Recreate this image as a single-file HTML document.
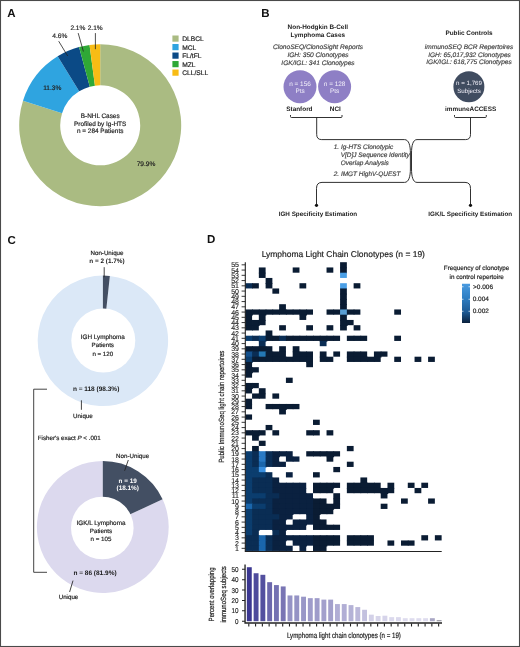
<!DOCTYPE html><html><head><meta charset="utf-8"><title>Figure</title>
<style>html,body{margin:0;padding:0;background:#fff}body{width:520px;height:647px;overflow:hidden}svg{display:block;will-change:transform;transform:translateZ(0)}text{font-family:"Liberation Sans",sans-serif;text-rendering:geometricPrecision}</style></head><body>
<svg width="520" height="647" viewBox="0 0 520 647">
<rect x="0" y="0" width="520" height="647" fill="#fff"/>
<text x="7.3" y="17.3" font-size="11.5" text-anchor="start" font-weight="bold" font-style="normal" fill="#111"  >A</text>
<text x="261.3" y="17.1" font-size="11.5" text-anchor="start" font-weight="bold" font-style="normal" fill="#111"  >B</text>
<text x="7.5" y="243.5" font-size="11.5" text-anchor="start" font-weight="bold" font-style="normal" fill="#111"  >C</text>
<text x="206.9" y="243.4" font-size="11.5" text-anchor="start" font-weight="bold" font-style="normal" fill="#111"  >D</text>
<path d="M100.20,44.30 A81,81 0 1 1 23.01,100.75 L62.08,113.18 A40,40 0 1 0 100.20,85.30 Z" fill="#aabb82"/>
<path d="M23.01,100.75 A81,81 0 0 1 57.66,56.37 L79.19,91.26 A40,40 0 0 0 62.08,113.18 Z" fill="#2fa4e0"/>
<path d="M57.66,56.37 A81,81 0 0 1 79.07,47.10 L89.77,86.68 A40,40 0 0 0 79.19,91.26 Z" fill="#0b4a86"/>
<path d="M79.07,47.10 A81,81 0 0 1 89.54,45.00 L94.94,85.65 A40,40 0 0 0 89.77,86.68 Z" fill="#2fa836"/>
<path d="M89.54,45.00 A81,81 0 0 1 100.20,44.30 L100.20,85.30 A40,40 0 0 0 94.94,85.65 Z" fill="#f8bc15"/>
<text x="100.2" y="117.9" font-size="6.4" text-anchor="middle" font-weight="normal" font-style="normal" fill="#222" stroke="#222" stroke-width="0.18" >B-NHL Cases</text>
<text x="100.2" y="125.5" font-size="6.4" text-anchor="middle" font-weight="normal" font-style="normal" fill="#222" stroke="#222" stroke-width="0.18" >Profiled by Ig-HTS</text>
<text x="100.2" y="133.3" font-size="6.4" text-anchor="middle" font-weight="normal" font-style="normal" fill="#222" stroke="#222" stroke-width="0.18" >n = 284 Patients</text>
<text x="146" y="166.0" font-size="6.6" text-anchor="middle" font-weight="normal" font-style="normal" fill="#222" stroke="#222" stroke-width="0.18" >79.9%</text>
<text x="52.3" y="89.5" font-size="6.6" text-anchor="middle" font-weight="normal" font-style="normal" fill="#222" stroke="#222" stroke-width="0.18" >11.3%</text>
<text x="59.8" y="38.1" font-size="6.6" text-anchor="middle" font-weight="normal" font-style="normal" fill="#222" stroke="#222" stroke-width="0.18" >4.6%</text>
<text x="77.9" y="29.6" font-size="6.6" text-anchor="middle" font-weight="normal" font-style="normal" fill="#222" stroke="#222" stroke-width="0.18" >2.1%</text>
<text x="95.2" y="29.6" font-size="6.6" text-anchor="middle" font-weight="normal" font-style="normal" fill="#222" stroke="#222" stroke-width="0.18" >2.1%</text>
<path d="M58.7,41.2 L67.7,56 M78.2,33.1 L83.4,51.5 M95.4,33.1 L95.4,49.2" stroke="#222" stroke-width="0.8" fill="none"/>
<rect x="172.4" y="35.50" width="6.2" height="6.2" fill="#aabb82"/>
<text x="182.2" y="41.0" font-size="6.7" text-anchor="start" font-weight="normal" font-style="normal" fill="#222" stroke="#222" stroke-width="0.18" >DLBCL</text>
<rect x="172.4" y="44.01" width="6.2" height="6.2" fill="#2fa4e0"/>
<text x="182.2" y="49.51" font-size="6.7" text-anchor="start" font-weight="normal" font-style="normal" fill="#222" stroke="#222" stroke-width="0.18" >MCL</text>
<rect x="172.4" y="52.52" width="6.2" height="6.2" fill="#0b4a86"/>
<text x="182.2" y="58.019999999999996" font-size="6.7" text-anchor="start" font-weight="normal" font-style="normal" fill="#222" stroke="#222" stroke-width="0.18" >FL/tFL</text>
<rect x="172.4" y="61.03" width="6.2" height="6.2" fill="#2fa836"/>
<text x="182.2" y="66.53" font-size="6.7" text-anchor="start" font-weight="normal" font-style="normal" fill="#222" stroke="#222" stroke-width="0.18" >MZL</text>
<rect x="172.4" y="69.54" width="6.2" height="6.2" fill="#f8bc15"/>
<text x="182.2" y="75.03999999999999" font-size="6.7" text-anchor="start" font-weight="normal" font-style="normal" fill="#222" stroke="#222" stroke-width="0.18" >CLL/SLL</text>
<text x="317.8" y="29.1" font-size="6.4" text-anchor="middle" font-weight="bold" font-style="normal" fill="#1a1a1a"  >Non-Hodgkin B-Cell</text>
<text x="317.8" y="37.3" font-size="6.4" text-anchor="middle" font-weight="bold" font-style="normal" fill="#1a1a1a"  >Lymphoma Cases</text>
<text x="318" y="48.8" font-size="6.6" text-anchor="middle" font-weight="normal" font-style="italic" fill="#444" stroke="#444" stroke-width="0.18" >ClonoSEQ/ClonoSight Reports</text>
<text x="318" y="56.6" font-size="6.6" text-anchor="middle" font-weight="normal" font-style="italic" fill="#444" stroke="#444" stroke-width="0.18" >IGH: 350 Clonotypes</text>
<text x="318" y="64.8" font-size="6.6" text-anchor="middle" font-weight="normal" font-style="italic" fill="#444" stroke="#444" stroke-width="0.18" >IGK/IGL: 341 Clonotypes</text>
<circle cx="300" cy="86.7" r="16.5" fill="#8e7fc5"/>
<circle cx="334.6" cy="86.7" r="16.5" fill="#8e7fc5"/>
<text x="300" y="85.5" font-size="6.4" text-anchor="middle" fill="#f4f2fb">n = 156</text>
<text x="300" y="93.4" font-size="6.4" text-anchor="middle" fill="#f4f2fb">Pts</text>
<text x="334.6" y="85.5" font-size="6.4" text-anchor="middle" fill="#f4f2fb">n = 128</text>
<text x="334.6" y="93.4" font-size="6.4" text-anchor="middle" fill="#f4f2fb">Pts</text>
<text x="299.4" y="110.9" font-size="6.4" text-anchor="middle" font-weight="bold" font-style="normal" fill="#1a1a1a"  >Stanford</text>
<text x="335.3" y="110.9" font-size="6.4" text-anchor="middle" font-weight="bold" font-style="normal" fill="#1a1a1a"  >NCI</text>
<text x="469" y="34.6" font-size="6.4" text-anchor="middle" font-weight="bold" font-style="normal" fill="#1a1a1a"  >Public Controls</text>
<text x="469" y="49.2" font-size="6.55" text-anchor="middle" font-weight="normal" font-style="italic" fill="#444" stroke="#444" stroke-width="0.18" >immunoSEQ BCR Repertoires</text>
<text x="469.5" y="56.7" font-size="6.55" text-anchor="middle" font-weight="normal" font-style="italic" fill="#444" stroke="#444" stroke-width="0.18" >IGH: 65,017,932 Clonotypes</text>
<text x="469" y="64.4" font-size="6.55" text-anchor="middle" font-weight="normal" font-style="italic" fill="#444" stroke="#444" stroke-width="0.18" >IGK/IGL: 618,775 Clonotypes</text>
<circle cx="468.9" cy="86.7" r="15.5" fill="#404c60"/>
<text x="469" y="85.3" font-size="6.2" text-anchor="middle" fill="#f4f2fb">n = 1,769</text>
<text x="469" y="92.6" font-size="6.2" text-anchor="middle" fill="#f4f2fb">Subjects</text>
<text x="470.6" y="110.7" font-size="6.4" text-anchor="middle" font-weight="bold" font-style="normal" fill="#1a1a1a"  >immuneACCESS</text>
<path d="M290.5,115 L290.5,116.5 Q290.5,117.5 291.5,117.5 L341,117.5 Q342,117.5 342,116.5 L342,115 M316.7,117.5 L316.7,134.5 Q316.7,139.6 321.7,139.6 L404.5,139.6 C409,139.6 410.4,146 410.4,153 L410.4,169 C410.4,176 409,182.4 404.5,182.4 L322,182.4 Q316.5,182.4 316.5,188.4 L316.5,205 M454.5,115 L454.5,116.5 Q454.5,117.5 455.5,117.5 L485.3,117.5 Q486.3,117.5 486.3,116.5 L486.3,115 M470.5,117.5 L470.5,134.5 Q470.5,139.6 465.5,139.6 L417,139.6 C412.8,139.6 411.5,146 411.5,153 L411.5,169 C411.5,176 412.8,182.4 417,182.4 L465,182.4 Q470.5,182.4 470.5,188.4 L470.5,205" stroke="#1a1a1a" stroke-width="0.9" fill="none"/>
<circle cx="316.5" cy="205.3" r="1.6" fill="#111"/><circle cx="470.5" cy="205.3" r="1.6" fill="#111"/>
<text x="333.75" y="149" font-size="6.45" text-anchor="start" font-weight="normal" font-style="italic" fill="#444" stroke="#444" stroke-width="0.18" >1. Ig-HTS Clonotypic</text>
<text x="340.75" y="156.8" font-size="6.45" text-anchor="start" font-weight="normal" font-style="italic" fill="#444" stroke="#444" stroke-width="0.18" >V[D]J Sequence Identity</text>
<text x="340.75" y="164.8" font-size="6.45" text-anchor="start" font-weight="normal" font-style="italic" fill="#444" stroke="#444" stroke-width="0.18" >Overlap Analysis</text>
<text x="333.75" y="175.8" font-size="6.45" text-anchor="start" font-weight="normal" font-style="italic" fill="#444" stroke="#444" stroke-width="0.18" >2. IMGT HighV-QUEST</text>
<text x="317.9" y="216" font-size="6.3" text-anchor="middle" font-weight="bold" font-style="normal" fill="#1a1a1a"  >IGH Specificity Estimation</text>
<text x="470.3" y="216" font-size="6.3" text-anchor="middle" font-weight="bold" font-style="normal" fill="#1a1a1a"  >IGK/L Specificity Estimation</text>
<path d="M109.85,275.97 A65.2,65.2 0 1 1 102.90,275.60 L102.90,320.80 A20,20 0 1 0 105.03,320.91 Z" fill="#dbe8f7"/>
<path d="M102.90,275.60 A65.2,65.2 0 0 1 109.85,275.97 L105.03,320.91 A20,20 0 0 0 102.90,320.80 Z" fill="#434f63"/>
<circle cx="103.3" cy="340.6" r="32" fill="#fff"/>
<text x="107" y="255.1" font-size="6.2" text-anchor="middle" font-weight="normal" font-style="normal" fill="#222" stroke="#222" stroke-width="0.18" >Non-Unique</text>
<text x="107" y="262.7" font-size="6.4" text-anchor="middle" font-weight="bold" font-style="normal" fill="#1a1a1a"  >n = 2 (1.7%)</text>
<text x="102.8" y="339.4" font-size="6.35" text-anchor="middle" font-weight="normal" font-style="normal" fill="#222" stroke="#222" stroke-width="0.18" >IGH Lymphoma</text>
<text x="102.8" y="347.3" font-size="6.2" text-anchor="middle" font-weight="normal" font-style="normal" fill="#222" stroke="#222" stroke-width="0.18" >Patients</text>
<text x="102.8" y="355.5" font-size="6.2" text-anchor="middle" font-weight="normal" font-style="normal" fill="#222" stroke="#222" stroke-width="0.18" >n = 120</text>
<text x="96.1" y="390.8" font-size="6.5" text-anchor="middle" font-weight="bold" font-style="normal" fill="#1a1a1a"  >n = 118 (98.3%)</text>
<text x="82.9" y="417.8" font-size="6.2" text-anchor="middle" font-weight="normal" font-style="normal" fill="#222" stroke="#222" stroke-width="0.18" >Unique</text>
<path d="M162.60,499.32 A65.9,65.9 0 1 1 102.80,461.10 L102.80,507.00 A20,20 0 1 0 120.95,518.60 Z" fill="#dcd9ee"/>
<path d="M102.80,461.10 A65.9,65.9 0 0 1 162.60,499.32 L120.95,518.60 A20,20 0 0 0 102.80,507.00 Z" fill="#434f63"/>
<circle cx="102.3" cy="528" r="31.3" fill="#fff"/>
<text x="37.8" y="440" font-size="6.2" text-anchor="start" font-weight="normal" font-style="normal" fill="#222" stroke="#222" stroke-width="0.18" >Fisher's exact <tspan font-style="italic">P</tspan> &lt; .001</text>
<text x="132.6" y="457.6" font-size="6.2" text-anchor="middle" font-weight="normal" font-style="normal" fill="#222" stroke="#222" stroke-width="0.18" >Non-Unique</text>
<text x="127.7" y="482.9" font-size="6.4" text-anchor="middle" font-weight="bold" font-style="normal" fill="#fff"  >n = 19</text>
<text x="127.7" y="490.2" font-size="6.4" text-anchor="middle" font-weight="bold" font-style="normal" fill="#fff"  >(18.1%)</text>
<text x="101" y="525.2" font-size="6.35" text-anchor="middle" font-weight="normal" font-style="normal" fill="#222" stroke="#222" stroke-width="0.18" >IGK/L Lymphoma</text>
<text x="101" y="533" font-size="6.2" text-anchor="middle" font-weight="normal" font-style="normal" fill="#222" stroke="#222" stroke-width="0.18" >Patients</text>
<text x="101" y="541" font-size="6.2" text-anchor="middle" font-weight="normal" font-style="normal" fill="#222" stroke="#222" stroke-width="0.18" >n = 105</text>
<text x="95" y="574.5" font-size="6.5" text-anchor="middle" font-weight="bold" font-style="normal" fill="#1a1a1a"  >n = 86 (81.9%)</text>
<text x="68.5" y="599.2" font-size="6.2" text-anchor="middle" font-weight="normal" font-style="normal" fill="#222" stroke="#222" stroke-width="0.18" >Unique</text>
<path d="M104.2,267.2 L104.2,277.2 M81.4,400.3 L81.4,409.8 M128.3,460 L124.6,470.8 M73,580.6 L69.6,592 M47,389.2 L33.7,389.2 L33.7,572.3 L47,572.3" stroke="#222" stroke-width="0.85" fill="none"/>
<text x="343.3" y="256.6" font-size="8.48" text-anchor="middle" font-weight="normal" font-style="normal" fill="#222" stroke="#222" stroke-width="0.18" >Lymphoma Light Chain Clonotypes (n = 19)</text>
<rect x="340.08" y="262.20" width="6.77" height="6.05" fill="#0a1c33"/>
<rect x="258.84" y="267.45" width="6.77" height="6.05" fill="#0a1c33"/>
<rect x="292.69" y="267.45" width="6.77" height="5.25" fill="#0a1c33"/>
<rect x="326.54" y="267.45" width="6.77" height="5.25" fill="#0a1c33"/>
<rect x="340.08" y="267.45" width="6.77" height="6.05" fill="#0a1c33"/>
<rect x="258.84" y="272.70" width="6.77" height="5.25" fill="#0a1c33"/>
<rect x="340.08" y="272.70" width="6.77" height="5.25" fill="#4a9fe6"/>
<rect x="265.61" y="277.95" width="6.77" height="6.05" fill="#0a1c33"/>
<rect x="245.30" y="283.20" width="7.57" height="5.25" fill="#0a2d54"/>
<rect x="252.07" y="283.20" width="6.77" height="5.25" fill="#0a1c33"/>
<rect x="265.61" y="283.20" width="6.77" height="5.25" fill="#0a1c33"/>
<rect x="299.46" y="283.20" width="6.77" height="5.25" fill="#0a1c33"/>
<rect x="340.08" y="283.20" width="6.77" height="6.05" fill="#4a9fe6"/>
<rect x="353.62" y="283.20" width="6.77" height="5.25" fill="#0a1c33"/>
<rect x="272.38" y="288.45" width="6.77" height="5.25" fill="#0a1c33"/>
<rect x="340.08" y="288.45" width="6.77" height="6.05" fill="#0a1c33"/>
<rect x="340.08" y="293.70" width="6.77" height="6.05" fill="#0a1c33"/>
<rect x="340.08" y="298.95" width="6.77" height="6.05" fill="#0a1c33"/>
<rect x="279.15" y="304.20" width="6.77" height="6.05" fill="#0a1c33"/>
<rect x="340.08" y="304.20" width="6.77" height="6.05" fill="#0a1c33"/>
<rect x="245.30" y="309.45" width="7.57" height="6.05" fill="#0a1c33"/>
<rect x="252.07" y="309.45" width="7.57" height="5.25" fill="#0a1c33"/>
<rect x="258.84" y="309.45" width="7.57" height="6.05" fill="#0a1c33"/>
<rect x="265.61" y="309.45" width="7.57" height="5.25" fill="#0a1c33"/>
<rect x="272.38" y="309.45" width="7.57" height="5.25" fill="#0a1c33"/>
<rect x="279.15" y="309.45" width="7.57" height="5.25" fill="#0a1c33"/>
<rect x="285.92" y="309.45" width="7.57" height="5.25" fill="#0a1c33"/>
<rect x="292.69" y="309.45" width="7.57" height="5.25" fill="#0a1c33"/>
<rect x="299.46" y="309.45" width="7.57" height="6.05" fill="#0a1c33"/>
<rect x="306.23" y="309.45" width="6.77" height="5.25" fill="#0a1c33"/>
<rect x="326.54" y="309.45" width="7.57" height="5.25" fill="#0a1c33"/>
<rect x="333.31" y="309.45" width="7.57" height="5.25" fill="#0a1c33"/>
<rect x="340.08" y="309.45" width="7.57" height="6.05" fill="#5a9fd4"/>
<rect x="346.85" y="309.45" width="7.57" height="5.25" fill="#0a1c33"/>
<rect x="353.62" y="309.45" width="6.77" height="5.25" fill="#0a1c33"/>
<rect x="394.24" y="309.45" width="6.77" height="5.25" fill="#0a1c33"/>
<rect x="245.30" y="314.70" width="6.77" height="6.05" fill="#0a1c33"/>
<rect x="258.84" y="314.70" width="6.77" height="6.05" fill="#0a1c33"/>
<rect x="299.46" y="314.70" width="6.77" height="5.25" fill="#0a1c33"/>
<rect x="340.08" y="314.70" width="6.77" height="6.05" fill="#0a1c33"/>
<rect x="245.30" y="319.95" width="7.57" height="6.05" fill="#0a1c33"/>
<rect x="252.07" y="319.95" width="7.57" height="6.05" fill="#0a1c33"/>
<rect x="258.84" y="319.95" width="6.77" height="5.25" fill="#0a1c33"/>
<rect x="340.08" y="319.95" width="7.57" height="6.05" fill="#0a1c33"/>
<rect x="346.85" y="319.95" width="6.77" height="5.25" fill="#0a1c33"/>
<rect x="245.30" y="325.20" width="7.57" height="5.25" fill="#0a1c33"/>
<rect x="252.07" y="325.20" width="6.77" height="5.25" fill="#0a1c33"/>
<rect x="279.15" y="325.20" width="6.77" height="5.25" fill="#0a1c33"/>
<rect x="306.23" y="325.20" width="6.77" height="5.25" fill="#0a1c33"/>
<rect x="326.54" y="325.20" width="6.77" height="5.25" fill="#0a1c33"/>
<rect x="340.08" y="325.20" width="6.77" height="5.25" fill="#0a1c33"/>
<rect x="353.62" y="325.20" width="6.77" height="5.25" fill="#0a1c33"/>
<rect x="265.61" y="330.45" width="6.77" height="6.05" fill="#0a1c33"/>
<rect x="245.30" y="335.70" width="7.57" height="5.25" fill="#0b3d6e"/>
<rect x="252.07" y="335.70" width="7.57" height="5.25" fill="#0a2d54"/>
<rect x="258.84" y="335.70" width="7.57" height="6.05" fill="#0b3d6e"/>
<rect x="265.61" y="335.70" width="7.57" height="5.25" fill="#0a1c33"/>
<rect x="272.38" y="335.70" width="7.57" height="5.25" fill="#0a1c33"/>
<rect x="279.15" y="335.70" width="7.57" height="5.25" fill="#0a2d54"/>
<rect x="285.92" y="335.70" width="7.57" height="5.25" fill="#0a1c33"/>
<rect x="292.69" y="335.70" width="7.57" height="5.25" fill="#0a1c33"/>
<rect x="299.46" y="335.70" width="7.57" height="5.25" fill="#0a1c33"/>
<rect x="306.23" y="335.70" width="7.57" height="5.25" fill="#0a1c33"/>
<rect x="313.00" y="335.70" width="7.57" height="5.25" fill="#0a1c33"/>
<rect x="319.77" y="335.70" width="7.57" height="6.05" fill="#0a1c33"/>
<rect x="326.54" y="335.70" width="7.57" height="5.25" fill="#0a1c33"/>
<rect x="333.31" y="335.70" width="6.77" height="5.25" fill="#0a1c33"/>
<rect x="346.85" y="335.70" width="7.57" height="5.25" fill="#0a1c33"/>
<rect x="353.62" y="335.70" width="7.57" height="5.25" fill="#0a1c33"/>
<rect x="360.39" y="335.70" width="6.77" height="5.25" fill="#0a1c33"/>
<rect x="394.24" y="335.70" width="6.77" height="5.25" fill="#0a1c33"/>
<rect x="258.84" y="340.95" width="6.77" height="6.05" fill="#0a2d54"/>
<rect x="319.77" y="340.95" width="6.77" height="5.25" fill="#0a2d54"/>
<rect x="245.30" y="346.20" width="7.57" height="6.05" fill="#0a1c33"/>
<rect x="252.07" y="346.20" width="7.57" height="6.05" fill="#0a1c33"/>
<rect x="258.84" y="346.20" width="7.57" height="6.05" fill="#0a1c33"/>
<rect x="265.61" y="346.20" width="6.77" height="6.05" fill="#0a1c33"/>
<rect x="279.15" y="346.20" width="6.77" height="6.05" fill="#0a1c33"/>
<rect x="292.69" y="346.20" width="6.77" height="6.05" fill="#0a1c33"/>
<rect x="245.30" y="351.45" width="7.57" height="6.05" fill="#14508c"/>
<rect x="252.07" y="351.45" width="7.57" height="6.05" fill="#0a2d54"/>
<rect x="258.84" y="351.45" width="7.57" height="6.05" fill="#2478b4"/>
<rect x="265.61" y="351.45" width="7.57" height="6.05" fill="#0a1c33"/>
<rect x="272.38" y="351.45" width="7.57" height="6.05" fill="#0a1c33"/>
<rect x="279.15" y="351.45" width="6.77" height="6.05" fill="#0a1c33"/>
<rect x="292.69" y="351.45" width="7.57" height="6.05" fill="#0a1c33"/>
<rect x="299.46" y="351.45" width="7.57" height="6.05" fill="#0a1c33"/>
<rect x="306.23" y="351.45" width="6.77" height="6.05" fill="#0a1c33"/>
<rect x="319.77" y="351.45" width="6.77" height="6.05" fill="#0a1c33"/>
<rect x="333.31" y="351.45" width="6.77" height="5.25" fill="#0a1c33"/>
<rect x="346.85" y="351.45" width="7.57" height="6.05" fill="#0a1c33"/>
<rect x="353.62" y="351.45" width="7.57" height="6.05" fill="#0a1c33"/>
<rect x="360.39" y="351.45" width="6.77" height="6.05" fill="#0a1c33"/>
<rect x="373.93" y="351.45" width="7.57" height="6.05" fill="#0a1c33"/>
<rect x="380.70" y="351.45" width="6.77" height="5.25" fill="#0a1c33"/>
<rect x="245.30" y="356.70" width="7.57" height="6.05" fill="#0b3d6e"/>
<rect x="252.07" y="356.70" width="7.57" height="5.25" fill="#0a1c33"/>
<rect x="258.84" y="356.70" width="7.57" height="5.25" fill="#0a1c33"/>
<rect x="265.61" y="356.70" width="7.57" height="5.25" fill="#0a1c33"/>
<rect x="272.38" y="356.70" width="7.57" height="5.25" fill="#0a1c33"/>
<rect x="279.15" y="356.70" width="7.57" height="5.25" fill="#0a1c33"/>
<rect x="285.92" y="356.70" width="7.57" height="5.25" fill="#0a1c33"/>
<rect x="292.69" y="356.70" width="7.57" height="5.25" fill="#0a1c33"/>
<rect x="299.46" y="356.70" width="7.57" height="5.25" fill="#0a1c33"/>
<rect x="306.23" y="356.70" width="6.77" height="6.05" fill="#0a1c33"/>
<rect x="319.77" y="356.70" width="7.57" height="5.25" fill="#0a1c33"/>
<rect x="326.54" y="356.70" width="6.77" height="5.25" fill="#0a1c33"/>
<rect x="346.85" y="356.70" width="7.57" height="5.25" fill="#0a1c33"/>
<rect x="353.62" y="356.70" width="7.57" height="5.25" fill="#0a1c33"/>
<rect x="360.39" y="356.70" width="7.57" height="5.25" fill="#0a1c33"/>
<rect x="367.16" y="356.70" width="7.57" height="5.25" fill="#0a1c33"/>
<rect x="373.93" y="356.70" width="6.77" height="5.25" fill="#0a1c33"/>
<rect x="394.24" y="356.70" width="6.77" height="5.25" fill="#0a1c33"/>
<rect x="414.55" y="356.70" width="6.77" height="5.25" fill="#0a1c33"/>
<rect x="428.09" y="356.70" width="6.77" height="5.25" fill="#0a1c33"/>
<rect x="245.30" y="361.95" width="6.77" height="6.05" fill="#0a1c33"/>
<rect x="306.23" y="361.95" width="6.77" height="5.25" fill="#0a1c33"/>
<rect x="245.30" y="367.20" width="7.57" height="6.05" fill="#0a1c33"/>
<rect x="252.07" y="367.20" width="6.77" height="5.25" fill="#0a1c33"/>
<rect x="245.30" y="372.45" width="6.77" height="5.25" fill="#0a1c33"/>
<rect x="285.92" y="377.70" width="6.77" height="5.25" fill="#0a1c33"/>
<rect x="245.30" y="382.95" width="7.57" height="6.05" fill="#0a1c33"/>
<rect x="252.07" y="382.95" width="6.77" height="5.25" fill="#0a1c33"/>
<rect x="245.30" y="388.20" width="6.77" height="5.25" fill="#0a1c33"/>
<rect x="258.84" y="388.20" width="6.77" height="6.05" fill="#0a1c33"/>
<rect x="252.07" y="393.45" width="7.57" height="5.25" fill="#0a1c33"/>
<rect x="258.84" y="393.45" width="6.77" height="5.25" fill="#0a1c33"/>
<rect x="272.38" y="393.45" width="6.77" height="5.25" fill="#0a1c33"/>
<rect x="245.30" y="398.70" width="6.77" height="6.05" fill="#0a1c33"/>
<rect x="245.30" y="403.95" width="6.77" height="5.25" fill="#0a1c33"/>
<rect x="265.61" y="403.95" width="7.57" height="5.25" fill="#0a1c33"/>
<rect x="272.38" y="403.95" width="7.57" height="5.25" fill="#0a1c33"/>
<rect x="279.15" y="403.95" width="7.57" height="6.05" fill="#0a1c33"/>
<rect x="285.92" y="403.95" width="7.57" height="5.25" fill="#0a1c33"/>
<rect x="292.69" y="403.95" width="6.77" height="5.25" fill="#0a1c33"/>
<rect x="279.15" y="409.20" width="6.77" height="5.25" fill="#0a1c33"/>
<rect x="245.30" y="414.45" width="6.77" height="5.25" fill="#0a1c33"/>
<rect x="313.00" y="419.70" width="6.77" height="5.25" fill="#0a1c33"/>
<rect x="265.61" y="424.95" width="6.77" height="5.25" fill="#0a1c33"/>
<rect x="245.30" y="430.20" width="7.57" height="5.25" fill="#0a1c33"/>
<rect x="252.07" y="430.20" width="7.57" height="6.05" fill="#0a1c33"/>
<rect x="258.84" y="430.20" width="6.77" height="5.25" fill="#0a1c33"/>
<rect x="272.38" y="430.20" width="6.77" height="5.25" fill="#0a1c33"/>
<rect x="306.23" y="430.20" width="7.57" height="5.25" fill="#0a1c33"/>
<rect x="313.00" y="430.20" width="6.77" height="5.25" fill="#0a1c33"/>
<rect x="326.54" y="430.20" width="6.77" height="5.25" fill="#0a1c33"/>
<rect x="252.07" y="435.45" width="6.77" height="5.25" fill="#0a1c33"/>
<rect x="258.84" y="440.70" width="6.77" height="5.25" fill="#0a1c33"/>
<rect x="252.07" y="445.95" width="6.77" height="6.05" fill="#0a1c33"/>
<rect x="346.85" y="445.95" width="6.77" height="5.25" fill="#0a1c33"/>
<rect x="245.30" y="451.20" width="7.57" height="6.05" fill="#0b3d6e"/>
<rect x="252.07" y="451.20" width="7.57" height="6.05" fill="#0a2d54"/>
<rect x="258.84" y="451.20" width="7.57" height="6.05" fill="#2a7ac4"/>
<rect x="265.61" y="451.20" width="7.57" height="6.05" fill="#0a2d54"/>
<rect x="272.38" y="451.20" width="7.57" height="6.05" fill="#0a2140"/>
<rect x="279.15" y="451.20" width="7.57" height="5.25" fill="#0a2140"/>
<rect x="285.92" y="451.20" width="6.77" height="6.05" fill="#0a2140"/>
<rect x="306.23" y="451.20" width="7.57" height="5.25" fill="#0a1c33"/>
<rect x="313.00" y="451.20" width="7.57" height="5.25" fill="#0a1c33"/>
<rect x="319.77" y="451.20" width="7.57" height="5.25" fill="#0a1c33"/>
<rect x="326.54" y="451.20" width="7.57" height="6.05" fill="#0a1c33"/>
<rect x="333.31" y="451.20" width="6.77" height="5.25" fill="#0a1c33"/>
<rect x="245.30" y="456.45" width="7.57" height="6.05" fill="#0b3d6e"/>
<rect x="252.07" y="456.45" width="7.57" height="6.05" fill="#0a2d54"/>
<rect x="258.84" y="456.45" width="7.57" height="6.05" fill="#2a7ac4"/>
<rect x="265.61" y="456.45" width="7.57" height="6.05" fill="#0a2d54"/>
<rect x="272.38" y="456.45" width="6.77" height="6.05" fill="#0a2140"/>
<rect x="285.92" y="456.45" width="7.57" height="5.25" fill="#0a2140"/>
<rect x="292.69" y="456.45" width="6.77" height="5.25" fill="#0a2140"/>
<rect x="326.54" y="456.45" width="6.77" height="5.25" fill="#0a1c33"/>
<rect x="245.30" y="461.70" width="7.57" height="6.05" fill="#0b3d6e"/>
<rect x="252.07" y="461.70" width="7.57" height="6.05" fill="#0a2d54"/>
<rect x="258.84" y="461.70" width="7.57" height="6.05" fill="#1a66ac"/>
<rect x="265.61" y="461.70" width="7.57" height="5.25" fill="#0a2d54"/>
<rect x="272.38" y="461.70" width="7.57" height="5.25" fill="#0a2140"/>
<rect x="279.15" y="461.70" width="6.77" height="5.25" fill="#0a2140"/>
<rect x="346.85" y="461.70" width="6.77" height="5.25" fill="#0a1c33"/>
<rect x="245.30" y="466.95" width="7.57" height="6.05" fill="#0b3d6e"/>
<rect x="252.07" y="466.95" width="7.57" height="6.05" fill="#0b3d6e"/>
<rect x="258.84" y="466.95" width="6.77" height="6.05" fill="#3a90e0"/>
<rect x="333.31" y="466.95" width="6.77" height="5.25" fill="#0a1c33"/>
<rect x="245.30" y="472.20" width="7.57" height="6.05" fill="#0b3d6e"/>
<rect x="252.07" y="472.20" width="7.57" height="6.05" fill="#0b3d6e"/>
<rect x="258.84" y="472.20" width="7.57" height="6.05" fill="#0b3d6e"/>
<rect x="265.61" y="472.20" width="6.77" height="6.05" fill="#0a2d54"/>
<rect x="285.92" y="472.20" width="6.77" height="5.25" fill="#0a2140"/>
<rect x="313.00" y="472.20" width="6.77" height="5.25" fill="#0a1c33"/>
<rect x="245.30" y="477.45" width="7.57" height="6.05" fill="#0b3d6e"/>
<rect x="252.07" y="477.45" width="7.57" height="6.05" fill="#0a2d54"/>
<rect x="258.84" y="477.45" width="7.57" height="6.05" fill="#0a2d54"/>
<rect x="265.61" y="477.45" width="7.57" height="6.05" fill="#0a2d54"/>
<rect x="272.38" y="477.45" width="6.77" height="6.05" fill="#0a2140"/>
<rect x="360.39" y="477.45" width="6.77" height="6.05" fill="#0a1c33"/>
<rect x="245.30" y="482.70" width="7.57" height="6.05" fill="#0b3d6e"/>
<rect x="252.07" y="482.70" width="7.57" height="6.05" fill="#0a2d54"/>
<rect x="258.84" y="482.70" width="7.57" height="6.05" fill="#0a2d54"/>
<rect x="265.61" y="482.70" width="7.57" height="6.05" fill="#0a2d54"/>
<rect x="272.38" y="482.70" width="7.57" height="6.05" fill="#0a2140"/>
<rect x="279.15" y="482.70" width="7.57" height="6.05" fill="#0a2140"/>
<rect x="285.92" y="482.70" width="7.57" height="6.05" fill="#0a2140"/>
<rect x="292.69" y="482.70" width="7.57" height="6.05" fill="#0a2140"/>
<rect x="299.46" y="482.70" width="6.77" height="6.05" fill="#0a2140"/>
<rect x="313.00" y="482.70" width="7.57" height="6.05" fill="#0a1c33"/>
<rect x="319.77" y="482.70" width="7.57" height="6.05" fill="#0a1c33"/>
<rect x="326.54" y="482.70" width="7.57" height="6.05" fill="#0a1c33"/>
<rect x="333.31" y="482.70" width="6.77" height="5.25" fill="#0a1c33"/>
<rect x="346.85" y="482.70" width="7.57" height="6.05" fill="#0a1c33"/>
<rect x="353.62" y="482.70" width="7.57" height="6.05" fill="#0a1c33"/>
<rect x="360.39" y="482.70" width="7.57" height="6.05" fill="#0a1c33"/>
<rect x="367.16" y="482.70" width="7.57" height="6.05" fill="#0a1c33"/>
<rect x="373.93" y="482.70" width="6.77" height="6.05" fill="#0a1c33"/>
<rect x="387.47" y="482.70" width="6.77" height="6.05" fill="#0a1c33"/>
<rect x="407.78" y="482.70" width="6.77" height="5.25" fill="#0a1c33"/>
<rect x="421.32" y="482.70" width="6.77" height="5.25" fill="#0a1c33"/>
<rect x="245.30" y="487.95" width="7.57" height="6.05" fill="#0b3d6e"/>
<rect x="252.07" y="487.95" width="7.57" height="6.05" fill="#0a2d54"/>
<rect x="258.84" y="487.95" width="7.57" height="6.05" fill="#0a2d54"/>
<rect x="265.61" y="487.95" width="7.57" height="6.05" fill="#0a2d54"/>
<rect x="272.38" y="487.95" width="7.57" height="6.05" fill="#0a2140"/>
<rect x="279.15" y="487.95" width="7.57" height="6.05" fill="#0a2140"/>
<rect x="285.92" y="487.95" width="7.57" height="6.05" fill="#0a2140"/>
<rect x="292.69" y="487.95" width="7.57" height="6.05" fill="#0a2140"/>
<rect x="299.46" y="487.95" width="6.77" height="6.05" fill="#0a2140"/>
<rect x="313.00" y="487.95" width="7.57" height="5.25" fill="#0a1c33"/>
<rect x="319.77" y="487.95" width="7.57" height="5.25" fill="#0a1c33"/>
<rect x="326.54" y="487.95" width="6.77" height="5.25" fill="#0a1c33"/>
<rect x="346.85" y="487.95" width="7.57" height="5.25" fill="#0a1c33"/>
<rect x="353.62" y="487.95" width="7.57" height="5.25" fill="#0a1c33"/>
<rect x="360.39" y="487.95" width="7.57" height="5.25" fill="#0a1c33"/>
<rect x="367.16" y="487.95" width="7.57" height="5.25" fill="#0a1c33"/>
<rect x="373.93" y="487.95" width="7.57" height="5.25" fill="#0a1c33"/>
<rect x="380.70" y="487.95" width="7.57" height="6.05" fill="#0a1c33"/>
<rect x="387.47" y="487.95" width="6.77" height="5.25" fill="#0a1c33"/>
<rect x="414.55" y="487.95" width="6.77" height="5.25" fill="#0a1c33"/>
<rect x="245.30" y="493.20" width="7.57" height="6.05" fill="#0b3d6e"/>
<rect x="252.07" y="493.20" width="7.57" height="6.05" fill="#0b3d6e"/>
<rect x="258.84" y="493.20" width="7.57" height="6.05" fill="#0b3d6e"/>
<rect x="265.61" y="493.20" width="7.57" height="6.05" fill="#0a2d54"/>
<rect x="272.38" y="493.20" width="7.57" height="6.05" fill="#0a2d54"/>
<rect x="279.15" y="493.20" width="7.57" height="6.05" fill="#0a2140"/>
<rect x="285.92" y="493.20" width="7.57" height="6.05" fill="#0a2140"/>
<rect x="292.69" y="493.20" width="7.57" height="6.05" fill="#0a2140"/>
<rect x="299.46" y="493.20" width="7.57" height="6.05" fill="#0a2140"/>
<rect x="306.23" y="493.20" width="6.77" height="6.05" fill="#0a2140"/>
<rect x="333.31" y="493.20" width="6.77" height="6.05" fill="#0a1c33"/>
<rect x="380.70" y="493.20" width="6.77" height="5.25" fill="#0a1c33"/>
<rect x="245.30" y="498.45" width="7.57" height="6.05" fill="#0b3d6e"/>
<rect x="252.07" y="498.45" width="7.57" height="6.05" fill="#0a2d54"/>
<rect x="258.84" y="498.45" width="7.57" height="6.05" fill="#0a2d54"/>
<rect x="265.61" y="498.45" width="7.57" height="6.05" fill="#0a2d54"/>
<rect x="272.38" y="498.45" width="7.57" height="6.05" fill="#0a2140"/>
<rect x="279.15" y="498.45" width="7.57" height="6.05" fill="#0a2140"/>
<rect x="285.92" y="498.45" width="7.57" height="6.05" fill="#0a2140"/>
<rect x="292.69" y="498.45" width="7.57" height="6.05" fill="#0a2140"/>
<rect x="299.46" y="498.45" width="7.57" height="6.05" fill="#0a2140"/>
<rect x="306.23" y="498.45" width="7.57" height="6.05" fill="#0a2140"/>
<rect x="313.00" y="498.45" width="7.57" height="6.05" fill="#0a1c33"/>
<rect x="319.77" y="498.45" width="6.77" height="6.05" fill="#0a1c33"/>
<rect x="333.31" y="498.45" width="6.77" height="6.05" fill="#0a1c33"/>
<rect x="401.01" y="498.45" width="6.77" height="5.25" fill="#0a1c33"/>
<rect x="428.09" y="498.45" width="6.77" height="5.25" fill="#0a1c33"/>
<rect x="245.30" y="503.70" width="7.57" height="6.05" fill="#1a66ac"/>
<rect x="252.07" y="503.70" width="7.57" height="6.05" fill="#0b3d6e"/>
<rect x="258.84" y="503.70" width="7.57" height="6.05" fill="#0b3d6e"/>
<rect x="265.61" y="503.70" width="7.57" height="6.05" fill="#0a2d54"/>
<rect x="272.38" y="503.70" width="7.57" height="6.05" fill="#0a2140"/>
<rect x="279.15" y="503.70" width="7.57" height="6.05" fill="#0a2140"/>
<rect x="285.92" y="503.70" width="7.57" height="6.05" fill="#0a2140"/>
<rect x="292.69" y="503.70" width="7.57" height="6.05" fill="#0a2140"/>
<rect x="299.46" y="503.70" width="7.57" height="6.05" fill="#0a2140"/>
<rect x="306.23" y="503.70" width="7.57" height="6.05" fill="#0a2140"/>
<rect x="313.00" y="503.70" width="7.57" height="6.05" fill="#0a1c33"/>
<rect x="319.77" y="503.70" width="7.57" height="6.05" fill="#0a1c33"/>
<rect x="326.54" y="503.70" width="7.57" height="6.05" fill="#0a1c33"/>
<rect x="333.31" y="503.70" width="6.77" height="5.25" fill="#0a1c33"/>
<rect x="380.70" y="503.70" width="6.77" height="5.25" fill="#0a1c33"/>
<rect x="245.30" y="508.95" width="7.57" height="6.05" fill="#0b3d6e"/>
<rect x="252.07" y="508.95" width="7.57" height="6.05" fill="#0a2d54"/>
<rect x="258.84" y="508.95" width="7.57" height="6.05" fill="#0a2d54"/>
<rect x="265.61" y="508.95" width="7.57" height="6.05" fill="#0a2d54"/>
<rect x="272.38" y="508.95" width="7.57" height="6.05" fill="#0a2140"/>
<rect x="279.15" y="508.95" width="7.57" height="6.05" fill="#0a2140"/>
<rect x="285.92" y="508.95" width="7.57" height="6.05" fill="#0a2140"/>
<rect x="292.69" y="508.95" width="7.57" height="5.25" fill="#0a2140"/>
<rect x="299.46" y="508.95" width="7.57" height="5.25" fill="#0a2140"/>
<rect x="306.23" y="508.95" width="7.57" height="6.05" fill="#0a2140"/>
<rect x="313.00" y="508.95" width="7.57" height="6.05" fill="#0a1c33"/>
<rect x="319.77" y="508.95" width="7.57" height="5.25" fill="#0a1c33"/>
<rect x="326.54" y="508.95" width="6.77" height="5.25" fill="#0a1c33"/>
<rect x="245.30" y="514.20" width="7.57" height="6.05" fill="#0b3d6e"/>
<rect x="252.07" y="514.20" width="7.57" height="6.05" fill="#0a2d54"/>
<rect x="258.84" y="514.20" width="7.57" height="6.05" fill="#0a2d54"/>
<rect x="265.61" y="514.20" width="7.57" height="6.05" fill="#0a2d54"/>
<rect x="272.38" y="514.20" width="7.57" height="6.05" fill="#0a2d54"/>
<rect x="279.15" y="514.20" width="7.57" height="6.05" fill="#0a2140"/>
<rect x="285.92" y="514.20" width="6.77" height="5.25" fill="#0a2140"/>
<rect x="306.23" y="514.20" width="7.57" height="6.05" fill="#0a2140"/>
<rect x="313.00" y="514.20" width="6.77" height="6.05" fill="#0a1c33"/>
<rect x="245.30" y="519.45" width="7.57" height="6.05" fill="#0b3d6e"/>
<rect x="252.07" y="519.45" width="7.57" height="6.05" fill="#0a2d54"/>
<rect x="258.84" y="519.45" width="7.57" height="6.05" fill="#0a2d54"/>
<rect x="265.61" y="519.45" width="7.57" height="6.05" fill="#0a2d54"/>
<rect x="272.38" y="519.45" width="7.57" height="6.05" fill="#0a2140"/>
<rect x="279.15" y="519.45" width="6.77" height="6.05" fill="#0a2140"/>
<rect x="292.69" y="519.45" width="7.57" height="6.05" fill="#0a2140"/>
<rect x="299.46" y="519.45" width="7.57" height="6.05" fill="#0a2140"/>
<rect x="306.23" y="519.45" width="7.57" height="5.25" fill="#0a2140"/>
<rect x="313.00" y="519.45" width="7.57" height="6.05" fill="#0a1c33"/>
<rect x="319.77" y="519.45" width="6.77" height="6.05" fill="#0a1c33"/>
<rect x="245.30" y="524.70" width="7.57" height="6.05" fill="#0b3d6e"/>
<rect x="252.07" y="524.70" width="7.57" height="6.05" fill="#0a2d54"/>
<rect x="258.84" y="524.70" width="7.57" height="5.25" fill="#0a2d54"/>
<rect x="265.61" y="524.70" width="7.57" height="5.25" fill="#0a2d54"/>
<rect x="272.38" y="524.70" width="7.57" height="6.05" fill="#0a2140"/>
<rect x="279.15" y="524.70" width="7.57" height="6.05" fill="#0a2140"/>
<rect x="285.92" y="524.70" width="7.57" height="5.25" fill="#0a2140"/>
<rect x="292.69" y="524.70" width="7.57" height="5.25" fill="#0a2140"/>
<rect x="299.46" y="524.70" width="6.77" height="5.25" fill="#0a2140"/>
<rect x="313.00" y="524.70" width="7.57" height="5.25" fill="#0a1c33"/>
<rect x="319.77" y="524.70" width="7.57" height="5.25" fill="#0a1c33"/>
<rect x="326.54" y="524.70" width="7.57" height="5.25" fill="#0a1c33"/>
<rect x="333.31" y="524.70" width="6.77" height="5.25" fill="#0a1c33"/>
<rect x="245.30" y="529.95" width="7.57" height="6.05" fill="#0b3d6e"/>
<rect x="252.07" y="529.95" width="6.77" height="6.05" fill="#0a2d54"/>
<rect x="272.38" y="529.95" width="7.57" height="6.05" fill="#0a2d54"/>
<rect x="279.15" y="529.95" width="6.77" height="6.05" fill="#0a2140"/>
<rect x="245.30" y="535.20" width="7.57" height="6.05" fill="#0a2d54"/>
<rect x="252.07" y="535.20" width="7.57" height="6.05" fill="#0a2d54"/>
<rect x="258.84" y="535.20" width="7.57" height="6.05" fill="#1a66ac"/>
<rect x="265.61" y="535.20" width="7.57" height="6.05" fill="#0a2d54"/>
<rect x="272.38" y="535.20" width="7.57" height="6.05" fill="#0a2140"/>
<rect x="279.15" y="535.20" width="7.57" height="6.05" fill="#0a2140"/>
<rect x="285.92" y="535.20" width="7.57" height="5.25" fill="#0a2140"/>
<rect x="292.69" y="535.20" width="7.57" height="6.05" fill="#0a2140"/>
<rect x="299.46" y="535.20" width="7.57" height="6.05" fill="#0a2140"/>
<rect x="306.23" y="535.20" width="7.57" height="6.05" fill="#0a2140"/>
<rect x="313.00" y="535.20" width="7.57" height="6.05" fill="#0a1c33"/>
<rect x="319.77" y="535.20" width="7.57" height="6.05" fill="#0a1c33"/>
<rect x="326.54" y="535.20" width="7.57" height="6.05" fill="#0a1c33"/>
<rect x="333.31" y="535.20" width="6.77" height="6.05" fill="#0a1c33"/>
<rect x="346.85" y="535.20" width="7.57" height="6.05" fill="#0a1c33"/>
<rect x="353.62" y="535.20" width="7.57" height="6.05" fill="#0a1c33"/>
<rect x="360.39" y="535.20" width="7.57" height="6.05" fill="#0a1c33"/>
<rect x="367.16" y="535.20" width="6.77" height="6.05" fill="#0a1c33"/>
<rect x="421.32" y="535.20" width="6.77" height="5.25" fill="#0a1c33"/>
<rect x="434.86" y="535.20" width="6.77" height="5.25" fill="#0a1c33"/>
<rect x="245.30" y="540.45" width="7.57" height="6.05" fill="#0a2d54"/>
<rect x="252.07" y="540.45" width="7.57" height="6.05" fill="#0a2d54"/>
<rect x="258.84" y="540.45" width="7.57" height="6.05" fill="#1a66ac"/>
<rect x="265.61" y="540.45" width="7.57" height="6.05" fill="#0a2d54"/>
<rect x="272.38" y="540.45" width="7.57" height="6.05" fill="#0a2140"/>
<rect x="279.15" y="540.45" width="6.77" height="6.05" fill="#0a2140"/>
<rect x="292.69" y="540.45" width="7.57" height="5.25" fill="#0a2140"/>
<rect x="299.46" y="540.45" width="7.57" height="6.05" fill="#0a2140"/>
<rect x="306.23" y="540.45" width="7.57" height="5.25" fill="#0a2140"/>
<rect x="313.00" y="540.45" width="7.57" height="6.05" fill="#0a1c33"/>
<rect x="319.77" y="540.45" width="7.57" height="6.05" fill="#0a1c33"/>
<rect x="326.54" y="540.45" width="7.57" height="5.25" fill="#0a1c33"/>
<rect x="333.31" y="540.45" width="6.77" height="5.25" fill="#0a1c33"/>
<rect x="346.85" y="540.45" width="7.57" height="5.25" fill="#0a1c33"/>
<rect x="353.62" y="540.45" width="7.57" height="5.25" fill="#0a1c33"/>
<rect x="360.39" y="540.45" width="7.57" height="5.25" fill="#0a1c33"/>
<rect x="367.16" y="540.45" width="6.77" height="5.25" fill="#0a1c33"/>
<rect x="387.47" y="540.45" width="6.77" height="5.25" fill="#0a1c33"/>
<rect x="401.01" y="540.45" width="7.57" height="5.25" fill="#0a1c33"/>
<rect x="407.78" y="540.45" width="6.77" height="5.25" fill="#0a1c33"/>
<rect x="245.30" y="545.70" width="7.57" height="5.25" fill="#0a2d54"/>
<rect x="252.07" y="545.70" width="7.57" height="5.25" fill="#0a2d54"/>
<rect x="258.84" y="545.70" width="7.57" height="5.25" fill="#1a66ac"/>
<rect x="265.61" y="545.70" width="7.57" height="5.25" fill="#0a2d54"/>
<rect x="272.38" y="545.70" width="7.57" height="5.25" fill="#0a2140"/>
<rect x="279.15" y="545.70" width="7.57" height="5.25" fill="#0a2140"/>
<rect x="285.92" y="545.70" width="6.77" height="5.25" fill="#0a2140"/>
<rect x="299.46" y="545.70" width="6.77" height="5.25" fill="#0a2140"/>
<rect x="313.00" y="545.70" width="7.57" height="5.25" fill="#0a1c33"/>
<rect x="319.77" y="545.70" width="6.77" height="5.25" fill="#0a1c33"/>
<path d="M245.3,262.2 L245.3,551.5 L441.7,551.5" stroke="#222" stroke-width="1.1" fill="none"/>
<text x="239" y="550.83" font-size="7" text-anchor="end" fill="#222" stroke="#222" stroke-width="0.12">1</text>
<text x="239" y="545.58" font-size="7" text-anchor="end" fill="#222" stroke="#222" stroke-width="0.12">2</text>
<text x="239" y="540.33" font-size="7" text-anchor="end" fill="#222" stroke="#222" stroke-width="0.12">3</text>
<text x="239" y="535.08" font-size="7" text-anchor="end" fill="#222" stroke="#222" stroke-width="0.12">4</text>
<text x="239" y="529.83" font-size="7" text-anchor="end" fill="#222" stroke="#222" stroke-width="0.12">5</text>
<text x="239" y="524.58" font-size="7" text-anchor="end" fill="#222" stroke="#222" stroke-width="0.12">6</text>
<text x="239" y="519.33" font-size="7" text-anchor="end" fill="#222" stroke="#222" stroke-width="0.12">7</text>
<text x="239" y="514.08" font-size="7" text-anchor="end" fill="#222" stroke="#222" stroke-width="0.12">8</text>
<text x="239" y="508.82" font-size="7" text-anchor="end" fill="#222" stroke="#222" stroke-width="0.12">9</text>
<text x="239" y="503.57" font-size="7" text-anchor="end" fill="#222" stroke="#222" stroke-width="0.12">10</text>
<text x="239" y="498.32" font-size="7" text-anchor="end" fill="#222" stroke="#222" stroke-width="0.12">11</text>
<text x="239" y="493.07" font-size="7" text-anchor="end" fill="#222" stroke="#222" stroke-width="0.12">12</text>
<text x="239" y="487.82" font-size="7" text-anchor="end" fill="#222" stroke="#222" stroke-width="0.12">13</text>
<text x="239" y="482.57" font-size="7" text-anchor="end" fill="#222" stroke="#222" stroke-width="0.12">14</text>
<text x="239" y="477.32" font-size="7" text-anchor="end" fill="#222" stroke="#222" stroke-width="0.12">15</text>
<text x="239" y="472.07" font-size="7" text-anchor="end" fill="#222" stroke="#222" stroke-width="0.12">16</text>
<text x="239" y="466.82" font-size="7" text-anchor="end" fill="#222" stroke="#222" stroke-width="0.12">17</text>
<text x="239" y="461.57" font-size="7" text-anchor="end" fill="#222" stroke="#222" stroke-width="0.12">18</text>
<text x="239" y="456.32" font-size="7" text-anchor="end" fill="#222" stroke="#222" stroke-width="0.12">19</text>
<text x="239" y="451.07" font-size="7" text-anchor="end" fill="#222" stroke="#222" stroke-width="0.12">20</text>
<text x="239" y="445.82" font-size="7" text-anchor="end" fill="#222" stroke="#222" stroke-width="0.12">21</text>
<text x="239" y="440.57" font-size="7" text-anchor="end" fill="#222" stroke="#222" stroke-width="0.12">22</text>
<text x="239" y="435.32" font-size="7" text-anchor="end" fill="#222" stroke="#222" stroke-width="0.12">23</text>
<text x="239" y="430.07" font-size="7" text-anchor="end" fill="#222" stroke="#222" stroke-width="0.12">24</text>
<text x="239" y="424.82" font-size="7" text-anchor="end" fill="#222" stroke="#222" stroke-width="0.12">25</text>
<text x="239" y="419.57" font-size="7" text-anchor="end" fill="#222" stroke="#222" stroke-width="0.12">26</text>
<text x="239" y="414.32" font-size="7" text-anchor="end" fill="#222" stroke="#222" stroke-width="0.12">27</text>
<text x="239" y="409.07" font-size="7" text-anchor="end" fill="#222" stroke="#222" stroke-width="0.12">28</text>
<text x="239" y="403.82" font-size="7" text-anchor="end" fill="#222" stroke="#222" stroke-width="0.12">29</text>
<text x="239" y="398.57" font-size="7" text-anchor="end" fill="#222" stroke="#222" stroke-width="0.12">30</text>
<text x="239" y="393.32" font-size="7" text-anchor="end" fill="#222" stroke="#222" stroke-width="0.12">31</text>
<text x="239" y="388.07" font-size="7" text-anchor="end" fill="#222" stroke="#222" stroke-width="0.12">32</text>
<text x="239" y="382.82" font-size="7" text-anchor="end" fill="#222" stroke="#222" stroke-width="0.12">33</text>
<text x="239" y="377.57" font-size="7" text-anchor="end" fill="#222" stroke="#222" stroke-width="0.12">34</text>
<text x="239" y="372.32" font-size="7" text-anchor="end" fill="#222" stroke="#222" stroke-width="0.12">35</text>
<text x="239" y="367.07" font-size="7" text-anchor="end" fill="#222" stroke="#222" stroke-width="0.12">36</text>
<text x="239" y="361.82" font-size="7" text-anchor="end" fill="#222" stroke="#222" stroke-width="0.12">37</text>
<text x="239" y="356.57" font-size="7" text-anchor="end" fill="#222" stroke="#222" stroke-width="0.12">38</text>
<text x="239" y="351.32" font-size="7" text-anchor="end" fill="#222" stroke="#222" stroke-width="0.12">39</text>
<text x="239" y="346.07" font-size="7" text-anchor="end" fill="#222" stroke="#222" stroke-width="0.12">40</text>
<text x="239" y="340.82" font-size="7" text-anchor="end" fill="#222" stroke="#222" stroke-width="0.12">41</text>
<text x="239" y="335.57" font-size="7" text-anchor="end" fill="#222" stroke="#222" stroke-width="0.12">42</text>
<text x="239" y="330.32" font-size="7" text-anchor="end" fill="#222" stroke="#222" stroke-width="0.12">43</text>
<text x="239" y="325.07" font-size="7" text-anchor="end" fill="#222" stroke="#222" stroke-width="0.12">44</text>
<text x="239" y="319.82" font-size="7" text-anchor="end" fill="#222" stroke="#222" stroke-width="0.12">45</text>
<text x="239" y="314.57" font-size="7" text-anchor="end" fill="#222" stroke="#222" stroke-width="0.12">46</text>
<text x="239" y="309.32" font-size="7" text-anchor="end" fill="#222" stroke="#222" stroke-width="0.12">47</text>
<text x="239" y="304.07" font-size="7" text-anchor="end" fill="#222" stroke="#222" stroke-width="0.12">48</text>
<text x="239" y="298.82" font-size="7" text-anchor="end" fill="#222" stroke="#222" stroke-width="0.12">49</text>
<text x="239" y="293.57" font-size="7" text-anchor="end" fill="#222" stroke="#222" stroke-width="0.12">50</text>
<text x="239" y="288.32" font-size="7" text-anchor="end" fill="#222" stroke="#222" stroke-width="0.12">51</text>
<text x="239" y="283.07" font-size="7" text-anchor="end" fill="#222" stroke="#222" stroke-width="0.12">52</text>
<text x="239" y="277.82" font-size="7" text-anchor="end" fill="#222" stroke="#222" stroke-width="0.12">53</text>
<text x="239" y="272.57" font-size="7" text-anchor="end" fill="#222" stroke="#222" stroke-width="0.12">54</text>
<text x="239" y="267.32" font-size="7" text-anchor="end" fill="#222" stroke="#222" stroke-width="0.12">55</text>
<path d="M241.6,548.33 L245.3,548.33 M241.6,543.08 L245.3,543.08 M241.6,537.83 L245.3,537.83 M241.6,532.58 L245.3,532.58 M241.6,527.33 L245.3,527.33 M241.6,522.08 L245.3,522.08 M241.6,516.83 L245.3,516.83 M241.6,511.57 L245.3,511.57 M241.6,506.32 L245.3,506.32 M241.6,501.07 L245.3,501.07 M241.6,495.82 L245.3,495.82 M241.6,490.57 L245.3,490.57 M241.6,485.32 L245.3,485.32 M241.6,480.07 L245.3,480.07 M241.6,474.82 L245.3,474.82 M241.6,469.57 L245.3,469.57 M241.6,464.32 L245.3,464.32 M241.6,459.07 L245.3,459.07 M241.6,453.82 L245.3,453.82 M241.6,448.57 L245.3,448.57 M241.6,443.32 L245.3,443.32 M241.6,438.07 L245.3,438.07 M241.6,432.82 L245.3,432.82 M241.6,427.57 L245.3,427.57 M241.6,422.32 L245.3,422.32 M241.6,417.07 L245.3,417.07 M241.6,411.82 L245.3,411.82 M241.6,406.57 L245.3,406.57 M241.6,401.32 L245.3,401.32 M241.6,396.07 L245.3,396.07 M241.6,390.82 L245.3,390.82 M241.6,385.57 L245.3,385.57 M241.6,380.32 L245.3,380.32 M241.6,375.07 L245.3,375.07 M241.6,369.82 L245.3,369.82 M241.6,364.57 L245.3,364.57 M241.6,359.32 L245.3,359.32 M241.6,354.07 L245.3,354.07 M241.6,348.82 L245.3,348.82 M241.6,343.57 L245.3,343.57 M241.6,338.32 L245.3,338.32 M241.6,333.07 L245.3,333.07 M241.6,327.82 L245.3,327.82 M241.6,322.57 L245.3,322.57 M241.6,317.32 L245.3,317.32 M241.6,312.07 L245.3,312.07 M241.6,306.82 L245.3,306.82 M241.6,301.57 L245.3,301.57 M241.6,296.32 L245.3,296.32 M241.6,291.07 L245.3,291.07 M241.6,285.82 L245.3,285.82 M241.6,280.57 L245.3,280.57 M241.6,275.32 L245.3,275.32 M241.6,270.07 L245.3,270.07 M241.6,264.82 L245.3,264.82" stroke="#222" stroke-width="0.9" fill="none"/>
<text transform="translate(224.4,406.7) rotate(-90) scale(0.821,1)" font-size="7.5" text-anchor="middle" fill="#222" stroke="#222" stroke-width="0.2">Public ImmunoSeq light chain repertoires</text>
<defs><linearGradient id="cb" x1="0" y1="0" x2="0" y2="1"><stop offset="0" stop-color="#4a9be0"/><stop offset="0.35" stop-color="#2f7fc4"/><stop offset="0.72" stop-color="#1d5a94"/><stop offset="1" stop-color="#0b213d"/></linearGradient></defs>
<text x="476.6" y="270.2" font-size="6.3" text-anchor="middle" font-weight="normal" font-style="normal" fill="#222" stroke="#222" stroke-width="0.18" >Frequency of clonotype</text>
<text x="476.7" y="278.7" font-size="6.3" text-anchor="middle" font-weight="normal" font-style="normal" fill="#222" stroke="#222" stroke-width="0.18" >in control repertoire</text>
<rect x="462" y="283.75" width="8" height="39.25" fill="url(#cb)"/>
<path d="M462,286.75 h1.5 M468.5,286.75 h1.5 M462,299.25 h1.5 M468.5,299.25 h1.5 M462,311.25 h1.5 M468.5,311.25 h1.5" stroke="#fff" stroke-width="0.7"/>
<text x="473" y="289" font-size="6.5" text-anchor="start" font-weight="normal" font-style="normal" fill="#222" stroke="#222" stroke-width="0.18" >&gt;0.006</text>
<text x="472.7" y="300.6" font-size="6.5" text-anchor="start" font-weight="normal" font-style="normal" fill="#222" stroke="#222" stroke-width="0.18" >0.004</text>
<text x="472.7" y="312.6" font-size="6.5" text-anchor="start" font-weight="normal" font-style="normal" fill="#222" stroke="#222" stroke-width="0.18" >0.002</text>
<rect x="246.85" y="567.22" width="4.9" height="53.98" fill="#3b3791"/>
<rect x="253.63" y="573.24" width="4.9" height="47.96" fill="#4e4b9c"/>
<rect x="260.41" y="574.80" width="4.9" height="46.40" fill="#53509f"/>
<rect x="267.19" y="582.17" width="4.9" height="39.03" fill="#6b67ac"/>
<rect x="273.97" y="585.08" width="4.9" height="36.12" fill="#7471b2"/>
<rect x="280.75" y="586.43" width="4.9" height="34.77" fill="#7975b4"/>
<rect x="287.53" y="595.46" width="4.9" height="25.74" fill="#9593c5"/>
<rect x="294.31" y="595.46" width="4.9" height="25.74" fill="#9593c5"/>
<rect x="301.09" y="596.70" width="4.9" height="24.50" fill="#9997c7"/>
<rect x="307.87" y="598.16" width="4.9" height="23.04" fill="#9e9bca"/>
<rect x="314.65" y="598.16" width="4.9" height="23.04" fill="#9e9bca"/>
<rect x="321.43" y="599.61" width="4.9" height="21.59" fill="#a3a0cc"/>
<rect x="328.21" y="599.61" width="4.9" height="21.59" fill="#a3a0cc"/>
<rect x="334.99" y="604.07" width="4.9" height="17.13" fill="#b1aed5"/>
<rect x="341.77" y="604.07" width="4.9" height="17.13" fill="#b1aed5"/>
<rect x="348.55" y="605.11" width="4.9" height="16.09" fill="#b4b2d6"/>
<rect x="355.33" y="607.08" width="4.9" height="14.12" fill="#bbb8da"/>
<rect x="362.11" y="609.78" width="4.9" height="11.42" fill="#c3c1df"/>
<rect x="368.89" y="614.66" width="4.9" height="6.54" fill="#d3d1e8"/>
<rect x="375.67" y="616.01" width="4.9" height="5.19" fill="#d7d5ea"/>
<rect x="382.45" y="615.70" width="4.9" height="5.50" fill="#d6d4ea"/>
<rect x="389.23" y="617.15" width="4.9" height="4.05" fill="#dbd9ed"/>
<rect x="396.01" y="617.15" width="4.9" height="4.05" fill="#dbd9ed"/>
<rect x="402.79" y="618.19" width="4.9" height="3.01" fill="#dedcee"/>
<rect x="409.57" y="618.19" width="4.9" height="3.01" fill="#dedcee"/>
<rect x="416.35" y="618.19" width="4.9" height="3.01" fill="#dedcee"/>
<rect x="423.13" y="618.19" width="4.9" height="3.01" fill="#dedcee"/>
<rect x="429.91" y="618.19" width="4.9" height="3.01" fill="#a9a7c4"/>
<rect x="436.69" y="620.37" width="4.9" height="0.83" fill="#6a6a7a"/>
<path d="M245.05,564.5 L245.05,623 L442,623" stroke="#222" stroke-width="1.35" fill="none"/>
<text transform="translate(238.6,623.70) scale(0.9,1)" font-size="7" text-anchor="end" fill="#222" stroke="#222" stroke-width="0.15">0</text>
<text transform="translate(238.6,613.32) scale(0.9,1)" font-size="7" text-anchor="end" fill="#222" stroke="#222" stroke-width="0.15">10</text>
<text transform="translate(238.6,602.94) scale(0.9,1)" font-size="7" text-anchor="end" fill="#222" stroke="#222" stroke-width="0.15">20</text>
<text transform="translate(238.6,592.56) scale(0.9,1)" font-size="7" text-anchor="end" fill="#222" stroke="#222" stroke-width="0.15">30</text>
<text transform="translate(238.6,582.18) scale(0.9,1)" font-size="7" text-anchor="end" fill="#222" stroke="#222" stroke-width="0.15">40</text>
<text transform="translate(238.6,571.80) scale(0.9,1)" font-size="7" text-anchor="end" fill="#222" stroke="#222" stroke-width="0.15">50</text>
<path d="M242,621.20 L245.05,621.20 M242,610.82 L245.05,610.82 M242,600.44 L245.05,600.44 M242,590.06 L245.05,590.06 M242,579.68 L245.05,579.68 M242,569.30 L245.05,569.30 M248.80,623.5 L248.80,626.5 M255.58,623.5 L255.58,626.5 M262.36,623.5 L262.36,626.5 M269.14,623.5 L269.14,626.5 M275.92,623.5 L275.92,626.5 M282.70,623.5 L282.70,626.5 M289.48,623.5 L289.48,626.5 M296.26,623.5 L296.26,626.5 M303.04,623.5 L303.04,626.5 M309.82,623.5 L309.82,626.5 M316.60,623.5 L316.60,626.5 M323.38,623.5 L323.38,626.5 M330.16,623.5 L330.16,626.5 M336.94,623.5 L336.94,626.5 M343.72,623.5 L343.72,626.5 M350.50,623.5 L350.50,626.5 M357.28,623.5 L357.28,626.5 M364.06,623.5 L364.06,626.5 M370.84,623.5 L370.84,626.5 M377.62,623.5 L377.62,626.5 M384.40,623.5 L384.40,626.5 M391.18,623.5 L391.18,626.5 M397.96,623.5 L397.96,626.5 M404.74,623.5 L404.74,626.5 M411.52,623.5 L411.52,626.5 M418.30,623.5 L418.30,626.5 M425.08,623.5 L425.08,626.5 M431.86,623.5 L431.86,626.5 M438.64,623.5 L438.64,626.5" stroke="#222" stroke-width="1.1" fill="none"/>
<text transform="translate(213.5,594.4) rotate(-90) scale(0.81,1)" font-size="7.5" text-anchor="middle" fill="#222" stroke="#222" stroke-width="0.2">Percent overlapping</text>
<text transform="translate(225.5,594.3) rotate(-90) scale(0.81,1)" font-size="7.5" text-anchor="middle" fill="#222" stroke="#222" stroke-width="0.2">immunoSeq subjects</text>
<text transform="translate(343.9,637.6) scale(0.79,1)" font-size="7.8" text-anchor="middle" fill="#222" stroke="#222" stroke-width="0.2">Lymphoma light chain clonotypes (n = 19)</text>
<rect x="0.5" y="0.5" width="519" height="646" fill="none" stroke="#4a4a4a" stroke-width="1.1"/>
</svg></body></html>
